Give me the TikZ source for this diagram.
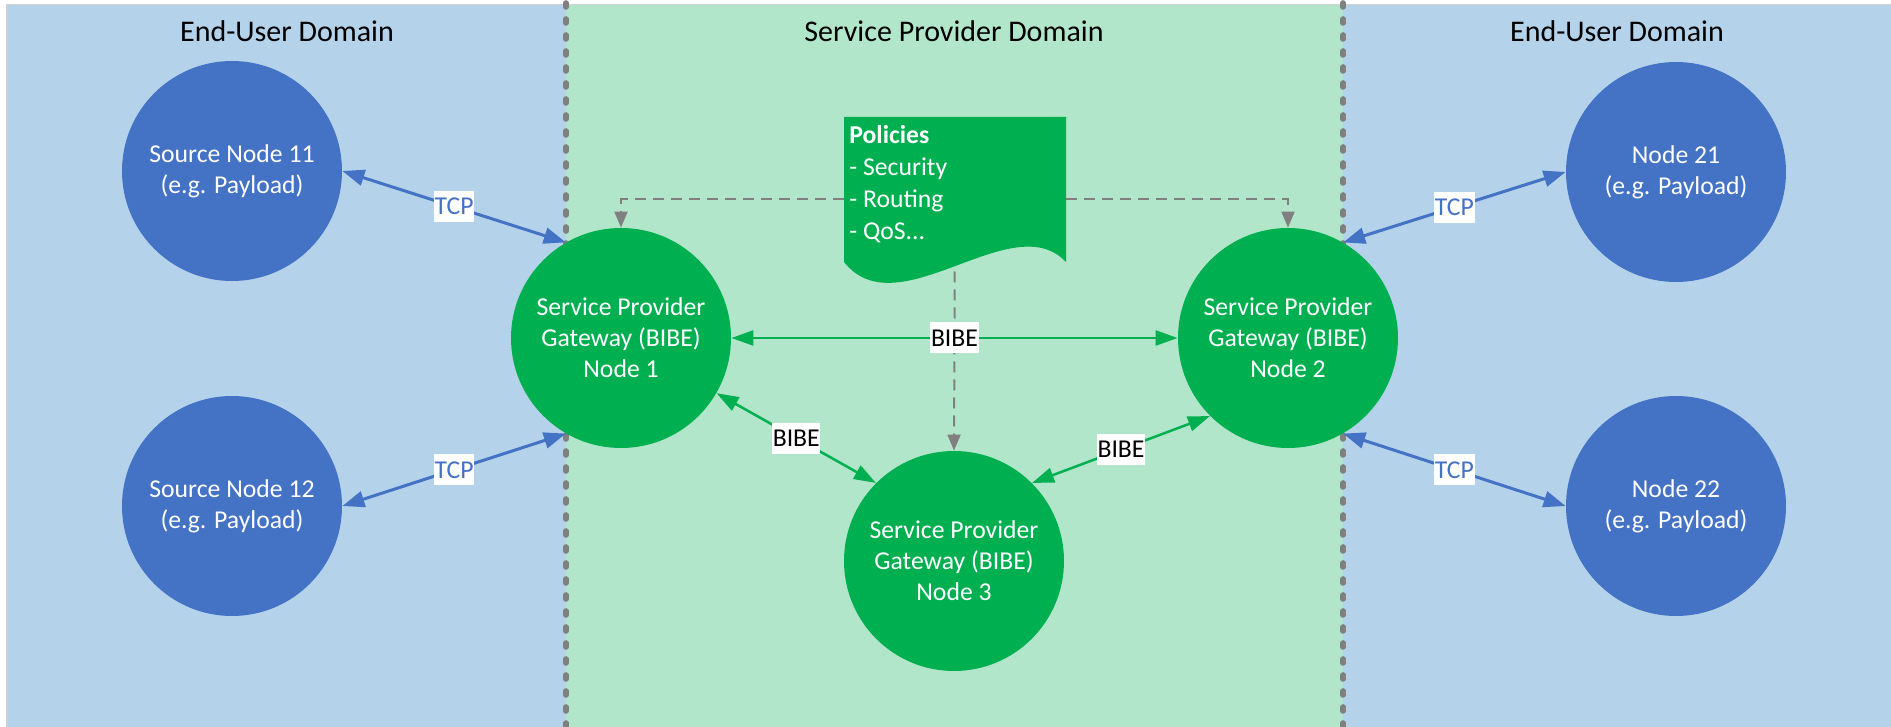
\documentclass[tikz,border=0pt]{standalone}
\usepackage{fontspec}
\setmainfont{Carlito}
\usetikzlibrary{arrows.meta}

\definecolor{userbg}{RGB}{180,211,235}
\definecolor{spbg}{RGB}{178,230,203}
\definecolor{gwgreen}{RGB}{0,176,80}
\definecolor{epblue}{RGB}{68,114,196}
\definecolor{divgray}{RGB}{128,128,128}
\definecolor{framegray}{RGB}{208,208,208}

\begin{document}
\begin{tikzpicture}[x=0.5pt,y=-0.5pt,
  font=\fontsize{12.85pt}{15.5pt}\selectfont,
  every node/.style={inner sep=0pt},
  gateway/.style={circle, fill=gwgreen, minimum size=110pt, text=white, align=center},
  endpoint/.style={circle, fill=epblue, minimum size=110pt, text=white, align=center},
  domaintitle/.style={font=\fontsize{15pt}{17pt}\selectfont, anchor=base},
  divider/.style={divgray, line width=2.8pt, line cap=round, dash pattern=on 2pt off 6pt},
  tcplink/.style={epblue, line width=1.5pt,
    {Triangle[length=11pt,width=8pt]}-{Triangle[length=11pt,width=8pt]}},
  bibelink/.style={gwgreen, line width=1.25pt,
    {Triangle[length=11pt,width=7.5pt]}-{Triangle[length=11pt,width=7.5pt]}},
  tcplabel/.style={fill=white, text=epblue, inner xsep=0.3pt, minimum height=15.5pt},
  bibelabel/.style={fill=white, text=black, inner xsep=0.3pt, minimum height=15.5pt},
  policylink/.style={divgray, line width=1pt, dash pattern=on 5.5pt off 3.5pt,
    -{Triangle[length=8pt,width=6.5pt]}},
]
\useasboundingbox (0,0) rectangle (1891,727);

% domain backgrounds
\fill[userbg] (7,5) rectangle (1891,727);
\fill[spbg] (566,5) rectangle (1343,727);
\draw[framegray, line width=0.6pt] (7,727) -- (7,4.5) -- (1891,4.5);
\draw[divider] (566,3) -- (566,727);
\draw[divider] (1343,3) -- (1343,727);

% domain titles
\node[domaintitle] (tleft) at (287,42) {End-User Domain};
\node[domaintitle] (tmid) at (954,42) {Service Provider Domain};
\node[domaintitle] (tright) at (1617,42) {End-User Domain};

% end-user nodes
\node[endpoint] (n11) at (232,171) {Source Node 11\\(e.g. Payload)};
\node[endpoint] (n12) at (232,506) {Source Node 12\\(e.g. Payload)};
\node[endpoint] (n21) at (1676,172) {Node 21\\(e.g. Payload)};
\node[endpoint] (n22) at (1676,506) {Node 22\\(e.g. Payload)};

% gateways
\node[gateway] (n1) at (621,338) {Service Provider\\Gateway (BIBE)\\Node 1};
\node[gateway] (n2) at (1288,338) {Service Provider\\Gateway (BIBE)\\Node 2};
\node[gateway] (n3) at (954,561) {Service Provider\\Gateway (BIBE)\\Node 3};

% policy document frame
\node[minimum width=111pt, minimum height=82.5pt] (pol) at (955,199.5) {};

% policy distribution
\draw[policylink] (pol.west) -| (n1.north);
\draw[policylink] (pol.east) -| (n2.north);
\draw[policylink] (pol.center) -- (n3.north);

% policy document shape
\fill[gwgreen] (844,117) -- (1066,117) -- (1066,262)
  .. controls (1012,205) and (898,330) .. (844,262) -- cycle;
\node[anchor=north west, text=white, align=left,
  font=\fontsize{12.85pt}{16pt}\selectfont] (poltext) at (849,125)
  {\textbf{Policies}\\- Security\\- Routing\\- QoS...};

% links
\draw[tcplink] (n11.east) -- node[tcplabel]{TCP} (n1.120);
\draw[tcplink] (n12.east) -- node[tcplabel]{TCP} (n1.240);
\draw[tcplink] (n2.60) -- node[tcplabel]{TCP} (n21.west);
\draw[tcplink] (n2.300) -- node[tcplabel]{TCP} (n22.west);
\draw[bibelink] (n1.east) -- node[bibelabel]{BIBE} (n2.west);
\draw[bibelink] (n1.330) -- node[bibelabel]{BIBE} (n3.135);
\draw[bibelink] (n3.45) -- node[bibelabel]{BIBE} (n2.225);
\end{tikzpicture}
\end{document}
